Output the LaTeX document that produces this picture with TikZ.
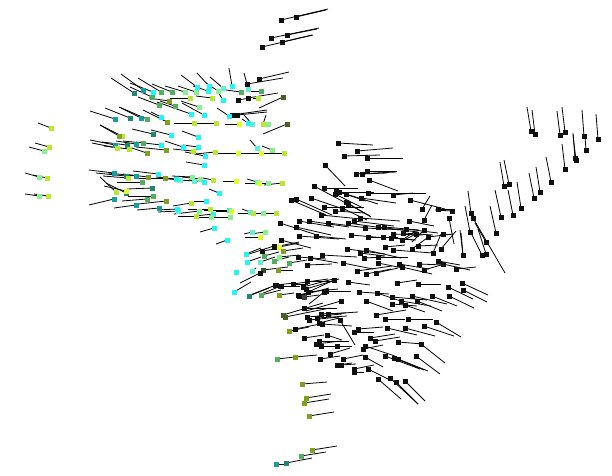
\documentclass[tikz,border=0pt]{standalone}
\definecolor{blk}{HTML}{101010}
\definecolor{cy}{HTML}{22F5F5}
\definecolor{lcy}{HTML}{60F0D8}
\definecolor{tl}{HTML}{15A0A0}
\definecolor{tg}{HTML}{208870}
\definecolor{gr}{HTML}{50B060}
\definecolor{lg}{HTML}{88F090}
\definecolor{yg}{HTML}{B8E830}
\definecolor{ye}{HTML}{DDFF22}
\definecolor{ol}{HTML}{80A020}
\definecolor{dol}{HTML}{4A6020}
\definecolor{dg}{HTML}{404040}
\definecolor{dgr}{HTML}{2E5030}
\tikzset{vec/.style={draw=black,line width=0.8pt}}
\def\pts{%
134/93/tg/-23/-15,143/90/tl/-22/-16,153/92/cy/-23/-9,161/92/gr/-23/-14,172/92/gr/-20/-8,185/92/lg/-20/-6,196/92/lg/-18/-6,197/87/cy/-16/-12,209/86/cy/-12/-13,208/91/cy/-15/-5,218/91/lg/-12/-8,223/88/lcy/-13/-11,232/86/cy/-3/-18,247/84/blk/-3/-11,247/84/blk/36/-6,248/89/lcy/-3/-5,241/92/gr/-15/-2,259/79/blk/30/-7,261/91/gr/-12/0,152/97/gr/-22/-10,169/101/ol/-20/-3,190/98/yg/-20/0,199/107/lg/-18/-6,212/98/yg/-16/-2,223/100/cy/-5/-8,238/100/blk/12/-2,248/98/blk/30/-5,258/98/yg/-5/0,283/97/dol/-24/11,159/105/gr/-21/-8,175/106/gr/-15/-5,191/114/cy/-34/-12,204/115/cy/-22/-12,232/115/blk/35/-5,237/115/blk/30/-3,229/116/cy/-12/-8,252/124/lcy/-8/-9,248/123/cy/-6/-4,263/124/yg/3/-9,268/124/lg/-5/0,287/124/dol/-24/10,239/124/ye/-14/0,216/123/yg/-20/0,194/123/yg/-20/0,167/122/ol/-24/-12,161/117/cy/-10/-5,147/119/gr/-28/-12,141/118/tl/-20/-10,130/118/tg/-25/-10,115/119/tl/-25/-8,51/128/yg/-13/-5,122/136/yg/-22/-11,119/136/ol/-19/-11,153/134/tg/-21/-5,171/135/cy/-20/-5,198/137/cy/-16/-6,49/147/yg/-14/-4,44/151/lg/-15/-4,115/145/tl/-25/-5,117/148/yg/-25/-5,127/145/tg/-25/-3,129/149/yg/-25/-3,136/144/tl/-20/-3,143/143/gr/-20/-2,147/153/ol/-21/-7,161/145/cy/-25/-3,166/150/ol/-30/-3,183/147/cy/-18/-6,193/151/yg/-20/-2,198/147/cy/-15/-2,205/156/cy/-20/-4,215/152/yg/-20/2,238/153/ye/-20/0,261/153/ye/-20/0,284/153/yg/-20/0,257/148/lcy/-7/-8,272/150/lg/-10/-4,204/165/cy/-18/-3,%
39/177/lg/-14/-4,47/178/yg/-14/-3,39/196/lg/-14/-2,48/196/yg/-14/-2,114/173/tl/-25/-3,126/176/tg/-30/-3,136/176/tl/-28/-3,148/177/ol/-25/-3,158/174/cy/-25/-3,165/178/ol/-30/0,176/179/cy/-20/-2,180/180/lcy/-22/-2,192/177/lg/-20/-1,194/181/lcy/-15/-1,200/179/lg/-18/-2,204/182/cy/-15/-2,213/180/yg/-10/-2,236/181/ye/-13/0,257/182/lcy/-10/-3,259/183/ye/-14/0,268/183/lg/-10/0,282/183/yg/-18/2,142/182/gr/-25/0,128/178/yg/-25/-2,%
116/192/yg/-16/-15,126/193/tg/-20/-10,126/191/ye/-22/-5,152/188/tg/-25/1,153/196/gr/-25/0,147/199/gr/-25/2,166/201/ol/-28/3,114/199/tl/-25/6,136/205/tl/-22/3,159/208/tl/-22/2,178/211/lcy/-20/1,177/209/cy/-20/1,191/203/yg/-18/3,206/201/cy/-16/0,199/211/lg/-25/3,196/216/yg/-18/0,210/209/yg/-22/0,213/214/cy/-18/2,211/217/lg/-15/0,229/210/cy/-25/0,231/211/ye/-15/0,230/217/lg/-18/0,219/193/cy/-10/-4,250/212/lcy/-8/-3,253/213/yg/-15/0,263/213/lg/-18/0,276/213/yg/-15/0,%
214/228/cy/-14/4,252/232/lcy/-8/2,260/237/ye/-15/0,265/232/lg/-15/2,227/240/cy/-11/4,246/254/cy/15/-6,247/262/cy/14/-5,260/262/lcy/15/-5,264/256/gr/15/-4,274/261/gr/15/-4,262/251/blk/20/-3,274/247/blk/25/-5,279/247/ye/20/-4,283/251/ol/20/-3,279/257/lg/20/-2,289/263/gr/18/-3,236/272/cy/2/-2,252/271/lcy/4/-3,263/270/dgr/25/-3,260/273/blk/-20/10,278/270/ol/15/0,234/292/cy/17/-10,249/296/tg/20/-8,261/295/gr/20/-5,275/285/blk/20/-2,280/286/dg/20/0,293/284/blk/15/0,279/295/ol/15/-2,298/295/blk/10/-2,%
338/143/blk/35/2,357/151/blk/36/-3,344/156/blk/36/-1,367/158/blk/36/0,325/165/blk/20/21,356/174/blk/40/-2,362/174/blk/25/-1,367/171/blk/30/0,369/180/blk/29/11,314/186/blk/30/16,324/188/blk/34/0,336/191/blk/30/10,339/192/blk/35/0,335/194/blk/28/14,346/194/blk/32/10,368/193/blk/58/0,393/195/blk/20/-2,311/198/blk/35/12,361/198/blk/35/5,291/200/blk/35/15,296/199/blk/36/16,346/202/blk/25/15,348/204/blk/22/12,410/200/blk/35/9,324/207/blk/40/0,335/211/blk/30/2,342/208/blk/25/12,321/215/blk/40/4,422/209/blk/8/-13,438/209/blk/14/0,452/211/blk/-17/-1,424/220/blk/8/-15,409/221/blk/25/5,360/218/blk/40/3,354/221/blk/40/5,348/223/blk/35/5,328/223/blk/40/5,309/221/blk/40/6,299/221/blk/35/6,280/223/blk/37/12,296/227/blk/35/8,365/228/blk/40/2,378/227/blk/40/5,384/227/blk/35/3,406/229/blk/32/4,403/233/blk/30/2,424/230/blk/-12/12,416/234/blk/-12/6,449/218/blk/5/26,443/234/blk/8/0,428/237/blk/25/-3,393/234/blk/30/1,383/237/blk/30/3,391/238/blk/25/2,402/240/blk/12/-8,368/237/blk/30/0,351/235/blk/35/3,316/236/blk/30/3,299/236/blk/40/3,281/240/blk/30/8,274/246/blk/-25/8,347/249/blk/38/5,366/250/blk/35/8,360/253/blk/25/3,364/258/blk/20/-1,378/257/blk/30/0,385/247/blk/20/-2,393/250/blk/40/3,412/249/blk/15/-11,418/246/blk/20/-1,433/253/blk/8/-19,441/249/blk/15/-18,463/255/blk/-2/-22,322/255/blk/35/2,310/258/blk/28/5,298/257/blk/28/2,307/265/blk/25/-1,343/263/blk/30/6,378/263/blk/25/5,399/264/blk/30/5,402/267/blk/30/7,419/264/blk/25/1,443/264/blk/27/6,456/269/blk/20/-2,438/261/blk/22/4,424/270/blk/17/-5,357/271/blk/35/-5,366/274/blk/25/-5,376/273/blk/22/-5,%
307/281/blk/30/0,334/280/blk/-32/15,348/282/blk/22/3,293/284/blk/35/-5,276/285/blk/-26/10,281/286/blk/-20/8,303/287/blk/30/-8,306/289/blk/33/-10,326/291/blk/25/0,324/292/blk/-15/12,308/292/blk/30/-3,299/296/blk/30/-8,304/297/dg/15/-2,397/283/blk/20/-3,418/284/blk/23/0,448/287/blk/25/12,462/283/blk/26/12,463/290/blk/24/12,359/292/blk/30/2,377/293/blk/24/8,392/297/blk/35/3,412/296/blk/35/8,432/296/blk/25/10,449/296/blk/25/12,401/301/blk/30/5,417/301/blk/25/10,392/304/blk/25/2,405/305/blk/20/7,366/301/blk/27/10,341/301/blk/-35/10,304/308/blk/33/0,283/315/dol/40/-12,285/317/dol/45/-9,307/317/blk/35/-3,321/314/blk/25/-1,328/314/blk/30/-2,309/320/blk/30/-3,317/318/blk/30/-2,340/320/blk/15/25,319/323/blk/20/-5,322/324/blk/30/2,376/315/blk/30/-5,385/319/blk/20/0,408/319/blk/25/0,436/322/blk/25/15,424/326/blk/30/10,405/328/blk/30/8,387/328/blk/30/7,358/329/blk/25/-2,354/332/blk/20/0,295/329/blk/30/-6,289/331/ol/20/-4,327/335/blk/15/5,304/338/blk/20/-3,319/341/blk/30/0,316/344/blk/25/-3,321/346/blk/20/0,337/346/blk/15/0,370/338/blk/25/-4,375/341/blk/25/-4,398/342/blk/25/2,421/344/blk/24/19,365/346/blk/30/10,363/349/blk/20/-4,330/354/blk/20/-6,320/359/blk/20/-3,295/357/ol/22/-2,277/359/gr/18/-2,343/359/blk/20/-4,365/357/blk/18/10,385/356/blk/35/13,394/358/blk/30/12,398/359/blk/30/12,416/356/blk/24/18,337/365/blk/15/-2,341/365/blk/15/-1,354/369/blk/20/-4,354/372/blk/10/0,368/369/blk/20/10,378/379/blk/23/20,390/378/blk/28/26,396/382/blk/22/22,405/381/blk/20/20,%
302/384/ol/25/-2,306/398/ol/25/-4,304/403/ol/25/-4,309/416/ol/25/-4,312/450/ol/25/-4,301/456/gr/25/-4,286/463/tg/26/-5,276/464/tl/10/0,%
281/20/blk/47/-11,296/17/blk/30/-7,271/38/blk/48/-10,287/35/blk/30/-6,262/47/blk/51/-12,282/42/blk/30/-7,%
531/131/blk/-4/-24,535/134/blk/-3/-24,560/135/blk/-3/-24,565/132/blk/-3/-25,584/136/blk/-2/-26,598/139/blk/-2/-25,586/150/blk/-1/-13,575/158/blk/-2/-25,576/160/blk/-3/-25,565/169/blk/-3/-25,551/182/blk/-5/-25,504/186/blk/-4/-24,509/184/blk/-5/-24,534/198/blk/-5/-25,540/192/blk/-4/-25,521/208/blk/-4/-26,513/215/blk/-5/-25,501/217/blk/-6/-27,496/233/blk/-6/-27,471/213/blk/-3/-22,473/218/blk/32/55,470/232/blk/-5/-26,486/242/blk/-11/-19,482/255/blk/-10/-20,486/254/blk/-8/-25,463/255/blk/-3/-25}
\begin{document}
\begin{tikzpicture}[x=1pt,y=-1pt]
\useasboundingbox[fill=white] (0,0) rectangle (612,475);
\foreach \x/\y/\c/\dx/\dy in \pts {\draw[vec] (\x,\y) -- ++(\dx,\dy);}
\foreach \x/\y/\c/\dx/\dy in \pts {\fill[fill=\c] (\x-2.5,\y-2.5) rectangle ++(5,5);}
\end{tikzpicture}
\end{document}
